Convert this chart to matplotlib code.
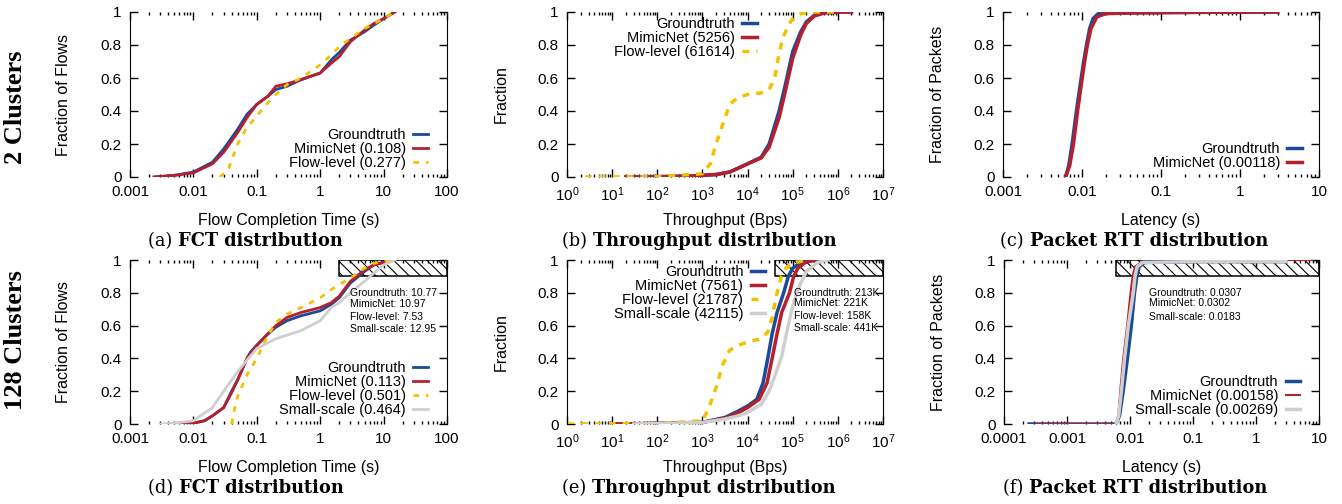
import math
import matplotlib
matplotlib.use('Agg')
import matplotlib.pyplot as plt
from matplotlib.ticker import LogLocator, FixedLocator, FixedFormatter, NullFormatter
from matplotlib.offsetbox import TextArea, HPacker, AnnotationBbox

plt.rcParams['font.family'] = 'Liberation Sans'
plt.rcParams['mathtext.fontset'] = 'custom'
plt.rcParams['mathtext.rm'] = 'Liberation Sans'
plt.rcParams['hatch.linewidth'] = 0.8

BLUE = '#1b4a98'
RED = '#b51f2e'
YELLOW = '#f2c200'
GRAY = '#cfcfcf'

# (a) FCT, 2 clusters
a_gt_x = [0.0024, 0.005, 0.01, 0.02, 0.03, 0.05, 0.07, 0.1, 0.15, 0.2, 0.3, 0.5, 0.7, 1, 1.5, 2, 3, 5, 7, 10, 15]
a_gt_y = [0, 0.01, 0.03, 0.09, 0.17, 0.29, 0.38, 0.44, 0.49, 0.53, 0.55, 0.59, 0.61, 0.63, 0.71, 0.755, 0.83, 0.88, 0.92, 0.96, 1.0]
a_mn_x = a_gt_x
a_mn_y = [0, 0.01, 0.025, 0.08, 0.15, 0.27, 0.36, 0.44, 0.49, 0.55, 0.565, 0.59, 0.61, 0.63, 0.69, 0.73, 0.82, 0.89, 0.93, 0.96, 1.0]
a_fl_x = [0.026, 0.035, 0.04, 0.05, 0.07, 0.1, 0.15, 0.2, 0.3, 0.5, 1, 1.5, 2, 3, 5, 10, 15]
a_fl_y = [0, 0.04, 0.1, 0.2, 0.3, 0.37, 0.45, 0.5, 0.56, 0.6, 0.68, 0.74, 0.79, 0.84, 0.9, 0.96, 1.0]

# (b) throughput, 2 clusters
b_gt_x = [20, 100, 500, 1000, 2000, 4000, 7000, 1e4, 2e4, 3e4, 5e4, 7e4, 1e5, 1.5e5, 2e5, 3e5, 5e5, 1e6, 2e6]
b_gt_y = [0, 0.002, 0.005, 0.01, 0.015, 0.03, 0.06, 0.08, 0.12, 0.2, 0.4, 0.57, 0.76, 0.88, 0.94, 0.98, 0.995, 1.0, 1.0]
b_mn_x = b_gt_x
b_mn_y = [0, 0.002, 0.005, 0.01, 0.015, 0.03, 0.06, 0.08, 0.115, 0.18, 0.36, 0.53, 0.72, 0.86, 0.93, 0.975, 0.995, 1.0, 1.0]
b_fl_x = [2.5, 100, 1000, 1500, 2000, 3000, 4000, 6000, 1e4, 2e4, 3e4, 4e4, 5e4, 6e4, 8e4, 1e5, 1.5e5, 3e5, 1e6]
b_fl_y = [0, 0.002, 0.02, 0.08, 0.2, 0.34, 0.44, 0.48, 0.5, 0.51, 0.53, 0.6, 0.75, 0.84, 0.92, 0.96, 0.99, 1.0, 1.0]

# (c) RTT, 2 clusters
c_gt_x = [0.0062, 0.0068, 0.0075, 0.0085, 0.0095, 0.0105, 0.0114, 0.0125, 0.0138, 0.016, 0.03, 0.3, 3]
c_gt_y = [0, 0.07, 0.2, 0.4, 0.56, 0.7, 0.8, 0.9, 0.96, 0.99, 0.995, 0.998, 1.0]
c_mn_x = [0.0062, 0.007, 0.0078, 0.0088, 0.0098, 0.0108, 0.0117, 0.013, 0.0154, 0.02, 0.05, 0.3, 3]
c_mn_y = [0, 0.07, 0.2, 0.4, 0.56, 0.7, 0.8, 0.9, 0.97, 0.99, 0.995, 0.998, 1.0]

# (d) FCT, 128 clusters
d_gt_x = [0.0055, 0.01, 0.015, 0.02, 0.03, 0.04, 0.05, 0.07, 0.08, 0.1, 0.15, 0.2, 0.3, 0.5, 1, 1.5, 2, 3, 5, 7, 10, 15]
d_gt_y = [0, 0.005, 0.02, 0.05, 0.1, 0.2, 0.27, 0.4, 0.44, 0.48, 0.55, 0.59, 0.63, 0.66, 0.69, 0.73, 0.77, 0.86, 0.93, 0.97, 0.985, 1.0]
d_mn_x = d_gt_x
d_mn_y = [0, 0.005, 0.02, 0.05, 0.1, 0.19, 0.27, 0.4, 0.43, 0.48, 0.55, 0.6, 0.65, 0.68, 0.71, 0.74, 0.78, 0.87, 0.94, 0.97, 0.985, 1.0]
d_fl_x = [0.04, 0.045, 0.05, 0.07, 0.1, 0.15, 0.2, 0.3, 0.5, 1, 1.5, 2, 3, 5, 7, 10, 13]
d_fl_y = [0, 0.1, 0.17, 0.3, 0.4, 0.54, 0.62, 0.67, 0.71, 0.77, 0.82, 0.85, 0.89, 0.95, 0.98, 0.99, 1.0]
d_sm_x = [0.003, 0.005, 0.01, 0.02, 0.03, 0.05, 0.07, 0.1, 0.2, 0.5, 1, 1.5, 2, 3, 5, 7, 10, 15]
d_sm_y = [0, 0.005, 0.02, 0.1, 0.2, 0.32, 0.39, 0.46, 0.52, 0.57, 0.63, 0.71, 0.74, 0.8, 0.87, 0.92, 0.97, 1.0]

# (e) throughput, 128 clusters
e_gt_x = [10, 100, 1000, 3160, 6300, 1e4, 1.6e4, 2.2e4, 2.8e4, 3.5e4, 4.5e4, 6.3e4, 8e4, 1e5, 1.6e5, 3.2e5]
e_gt_y = [0, 0.003, 0.01, 0.04, 0.08, 0.11, 0.15, 0.25, 0.4, 0.55, 0.68, 0.8, 0.9, 0.95, 0.99, 1.0]
e_mn_x = [10, 100, 1000, 3160, 6300, 1e4, 1.8e4, 2.7e4, 3.5e4, 4.5e4, 5.7e4, 8.5e4, 1.05e5, 1.3e5, 2e5, 4e5]
e_mn_y = [0, 0.003, 0.01, 0.035, 0.07, 0.1, 0.15, 0.25, 0.4, 0.55, 0.68, 0.8, 0.9, 0.95, 0.99, 1.0]
e_fl_x = [1, 100, 1000, 1400, 2000, 2800, 4000, 6300, 1e4, 2e4, 2.8e4, 3.5e4, 4.5e4, 5.6e4, 7e4, 1e5, 2e5]
e_fl_y = [0, 0.003, 0.02, 0.1, 0.22, 0.36, 0.45, 0.48, 0.5, 0.52, 0.56, 0.65, 0.8, 0.9, 0.95, 0.98, 1.0]
e_sm_x = [30, 100, 1000, 3160, 6300, 1e4, 2e4, 3e4, 4.5e4, 5.8e4, 7.5e4, 1e5, 1.3e5, 2e5, 3.5e5, 6e5]
e_sm_y = [0, 0.002, 0.01, 0.03, 0.05, 0.07, 0.12, 0.2, 0.33, 0.42, 0.57, 0.72, 0.82, 0.93, 0.985, 1.0]

# (f) RTT, 128 clusters
f_gt_x = [0.00025, 0.006, 0.0068, 0.0078, 0.0091, 0.0105, 0.0118, 0.0128, 0.014, 0.017, 0.1, 3]
f_gt_y = [0, 0, 0.05, 0.2, 0.4, 0.6, 0.8, 0.9, 0.96, 0.985, 0.99, 0.99]
f_mn_x = [0.00033, 0.006, 0.0065, 0.007, 0.0078, 0.009, 0.0102, 0.011, 0.012, 0.015, 0.1, 3, 3.01, 8]
f_mn_y = [0, 0, 0.05, 0.2, 0.4, 0.6, 0.8, 0.9, 0.96, 0.985, 0.99, 0.99, 1.0, 1.0]
f_sm_x = [0.006, 0.0066, 0.0073, 0.0082, 0.0094, 0.0113, 0.012, 0.013, 0.016, 0.1, 3]
f_sm_y = [0, 0.05, 0.2, 0.4, 0.6, 0.8, 0.9, 0.96, 0.985, 0.99, 0.99]

fct_ticks = ['0.001', '0.01', '0.1', '1', '10', '100']
tput_ticks = ['$\\mathregular{10^{%d}}$' % k for k in range(8)]
rtt2_ticks = ['0.001', '0.01', '0.1', '1', '10']
rtt128_ticks = ['0.0001', '0.001', '0.01', '0.1', '1', '10']

W, H = 1342, 504
fig = plt.figure(figsize=(W / 100, H / 100), dpi=100)


def make_ax(left, top, right, bottom):
    return fig.add_axes([left / W, 1 - bottom / H, (right - left) / W, (bottom - top) / H])


def setup(ax, xmin, xmax, ticklabels, xlabel, ylabel, caption_tag, caption, cap_x):
    ax.set_xscale('log')
    ax.set_xlim(xmin, xmax)
    ax.set_ylim(0, 1)
    k0 = round(math.log10(xmin))
    majors = [10.0 ** (k0 + i) for i in range(len(ticklabels))]
    ax.xaxis.set_major_locator(FixedLocator(majors))
    ax.xaxis.set_major_formatter(FixedFormatter(ticklabels))
    ax.xaxis.set_minor_locator(LogLocator(base=10, subs=range(2, 10), numticks=20))
    ax.xaxis.set_minor_formatter(NullFormatter())
    ax.set_yticks([0, 0.2, 0.4, 0.6, 0.8, 1.0])
    ax.set_yticklabels(['0', '0.2', '0.4', '0.6', '0.8', '1'])
    ax.tick_params(which='both', direction='in', top=True, right=True, labelsize=11, width=1)
    ax.tick_params(axis='x', which='major', length=6, pad=6)
    ax.tick_params(axis='x', which='minor', length=2.5)
    ax.tick_params(axis='y', which='major', length=6, pad=6)
    ax.spines['top'].set_visible(False)
    ax.spines['bottom'].set_visible(False)
    ax.set_xlabel(xlabel, fontsize=11.5)
    ax.set_ylabel(ylabel, fontsize=11.5)
    ax.xaxis.set_label_coords(0.5, -0.22)
    ax.yaxis.set_label_coords(-0.185, 0.5)
    box = HPacker(children=[
        TextArea(caption_tag + ' ', textprops=dict(family='DejaVu Serif', size=12.8)),
        TextArea(caption, textprops=dict(family='DejaVu Serif', size=12.8, weight='bold'))],
        pad=0, sep=0, align='baseline')
    ab = AnnotationBbox(box, (cap_x, -0.39), xycoords='axes fraction', frameon=False,
                        box_alignment=(0.5, 0.5), annotation_clip=False)
    ax.add_artist(ab)


def legend(ax, loc, anchor):
    ax.legend(loc=loc, bbox_to_anchor=anchor, frameon=False, markerfirst=False,
              fontsize=10.5, handlelength=1.0, handletextpad=0.5, labelspacing=0.0,
              borderaxespad=0, borderpad=0)


def hatch_box(ax, x0, x1):
    ax.fill_between([x0, x1], 0.9, 1.0, facecolor='none', edgecolor='black',
                    hatch='\\\\\\', linewidth=1.1, zorder=1)


def notes(ax, x, ys, lines):
    for y, s in zip(ys, lines):
        ax.text(x, y, s, fontsize=7.5, ha='left', va='center', zorder=5)


# (a)
ax = make_ax(130, 12, 447, 177)
ax.plot(a_gt_x, a_gt_y, color=BLUE, lw=2, label='Groundtruth')
ax.plot(a_mn_x, a_mn_y, color=RED, lw=2, label='MimicNet (0.108)')
ax.plot(a_fl_x, a_fl_y, color=YELLOW, lw=2, ls=(0, (2, 2.5)), label='Flow-level (0.277)')
setup(ax, 0.001, 100, fct_ticks, 'Flow Completion Time (s)', 'Fraction of Flows', '(a)', 'FCT distribution', 0.365)
legend(ax, 'lower right', (0.94, 0.04))

# (b)
ax = make_ax(567, 12, 883, 177)
ax.plot(b_gt_x, b_gt_y, color=BLUE, lw=2.5, label='Groundtruth')
ax.plot(b_mn_x, b_mn_y, color=RED, lw=2.5, label='MimicNet (5256)')
ax.plot(b_fl_x, b_fl_y, color=YELLOW, lw=2.5, ls=(0, (2, 2)), label='Flow-level (61614)')
setup(ax, 1, 1e7, tput_ticks, 'Throughput (Bps)', 'Fraction', '(b)', 'Throughput distribution', 0.418)
legend(ax, 'upper right', (0.60, 0.97))

# (c)
ax = make_ax(1003, 12, 1319, 177)
ax.plot(c_gt_x, c_gt_y, color=BLUE, lw=2.5, label='Groundtruth')
ax.plot(c_mn_x, c_mn_y, color=RED, lw=2.5, label='MimicNet (0.00118)')
setup(ax, 0.001, 10, rtt2_ticks, 'Latency (s)', 'Fraction of Packets', '(c)', 'Packet RTT distribution', 0.415)
legend(ax, 'lower right', (0.946, 0.04))

# (d)
ax = make_ax(130, 260, 447, 424)
hatch_box(ax, 2.0, 100)
ax.plot(d_gt_x, d_gt_y, color=BLUE, lw=2, label='Groundtruth')
ax.plot(d_mn_x, d_mn_y, color=RED, lw=2, label='MimicNet (0.113)')
ax.plot(d_fl_x, d_fl_y, color=YELLOW, lw=2, ls=(0, (2, 2.5)), label='Flow-level (0.501)')
ax.plot(d_sm_x, d_sm_y, color=GRAY, lw=2, label='Small-scale (0.464)')
setup(ax, 0.001, 100, fct_ticks, 'Flow Completion Time (s)', 'Fraction of Flows', '(d)', 'FCT distribution', 0.365)
legend(ax, 'lower right', (0.94, 0.04))
notes(ax, 2.9, [0.80, 0.73, 0.655, 0.58],
      ['Groundtruth: 10.77', 'MimicNet: 10.97', 'Flow-level: 7.53', 'Small-scale: 12.95'])

# (e)
ax = make_ax(567, 260, 883, 424)
hatch_box(ax, 4e4, 1e7)
ax.plot(e_gt_x, e_gt_y, color=BLUE, lw=2.5, label='Groundtruth')
ax.plot(e_mn_x, e_mn_y, color=RED, lw=2.5, label='MimicNet (7561)')
ax.plot(e_fl_x, e_fl_y, color=YELLOW, lw=2.5, ls=(0, (2, 2)), label='Flow-level (21787)')
ax.plot(e_sm_x, e_sm_y, color=GRAY, lw=2.5, label='Small-scale (42115)')
setup(ax, 1, 1e7, tput_ticks, 'Throughput (Bps)', 'Fraction', '(e)', 'Throughput distribution', 0.418)
legend(ax, 'upper right', (0.627, 0.97))
notes(ax, 1.05e5, [0.80, 0.735, 0.66, 0.585],
      ['Groundtruth: 213K', 'MimicNet: 221K', 'Flow-level: 158K', 'Small-scale: 441K'])

# (f)
ax = make_ax(1004, 260, 1319, 424)
hatch_box(ax, 0.0059, 10)
ax.plot(f_gt_x, f_gt_y, color=BLUE, lw=2.5, label='Groundtruth')
ax.plot(f_mn_x, f_mn_y, color=RED, lw=1.5, label='MimicNet (0.00158)')
ax.plot(f_sm_x, f_sm_y, color=GRAY, lw=2.5, label='Small-scale (0.00269)')
setup(ax, 0.0001, 10, rtt128_ticks, 'Latency (s)', 'Fraction of Packets', '(f)', 'Packet RTT distribution', 0.415)
legend(ax, 'lower right', (0.94, 0.04))
notes(ax, 0.02, [0.80, 0.735, 0.655],
      ['Groundtruth: 0.0307', 'MimicNet: 0.0302', 'Small-scale: 0.0183'])

fig.text(16 / W, 1 - 107 / H, '2 Clusters', rotation=90, ha='center', va='center',
         family='Liberation Serif', weight='bold', size=19)
fig.text(16 / W, 1 - 340 / H, '128 Clusters', rotation=90, ha='center', va='center',
         family='Liberation Serif', weight='bold', size=19)

fig.savefig('out.png', dpi=100)
